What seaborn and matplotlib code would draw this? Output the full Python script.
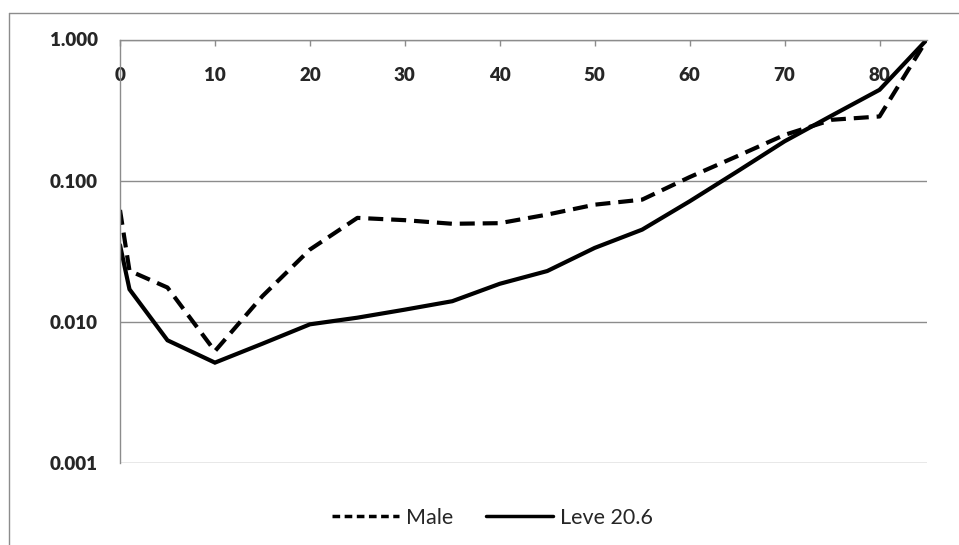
import numpy as np
import pandas as pd
import matplotlib
matplotlib.use("Agg")
import matplotlib.pyplot as plt
from matplotlib.lines import Line2D
from matplotlib.ticker import FixedLocator, FixedFormatter, NullLocator
import seaborn as sns

# Mortality rates by age (log scale)
ages = [0, 1, 5, 10, 15, 20, 25, 30, 35, 40, 45, 50, 55, 60, 65, 70, 75, 80, 85]
male = [0.062, 0.023, 0.0175, 0.0062, 0.0152, 0.0325, 0.0545, 0.0525, 0.0495,
        0.050, 0.0575, 0.0676, 0.0734, 0.106, 0.149, 0.211, 0.27, 0.285, 1.0]
leve = [0.035, 0.017, 0.0074, 0.00514, 0.0070, 0.0096, 0.0107, 0.0122, 0.014,
        0.0186, 0.0229, 0.0334, 0.045, 0.0714, 0.116, 0.19, 0.29, 0.44, 1.0]
series_names = ["Male", "Leve 20.6"]

y_ticks = [0.001, 0.01, 0.1, 1.0]
y_tick_labels = ["0.001", "0.010", "0.100", "1.000"]
x_ticks = [0, 10, 20, 30, 40, 50, 60, 70, 80]

df = pd.concat([
    pd.DataFrame({"age": ages, "rate": male, "series": series_names[0]}),
    pd.DataFrame({"age": ages, "rate": leve, "series": series_names[1]}),
], ignore_index=True)

sns.set_style("white")
plt.rcParams["font.family"] = ["Lato", "DejaVu Sans"]

GRAY = "#8c8c8c"
W, H = 959, 545
fig = plt.figure(figsize=(W / 100, H / 100), dpi=100)
ax = fig.add_axes([120 / W, 1 - 463 / H, 807 / W, (463 - 39.5) / H])

dash_style = {series_names[0]: (3.6, 1.9), series_names[1]: ""}
sns.lineplot(data=df, x="age", y="rate", style="series", style_order=series_names,
             dashes=dash_style, color="black", linewidth=3, sort=False,
             estimator=None, legend=False, ax=ax)
for ln in ax.lines:
    ln.set_dash_capstyle("butt")
    ln.set_solid_joinstyle("miter")

ax.set_yscale("log")
ax.set_ylim(0.001, 1.0)
ax.set_xlim(0, 85)
ax.yaxis.set_major_locator(FixedLocator(y_ticks))
ax.yaxis.set_major_formatter(FixedFormatter(y_tick_labels))
ax.yaxis.set_minor_locator(NullLocator())
ax.set_xticks(x_ticks)
ax.set_xticklabels([str(v) for v in x_ticks])
ax.set_xlabel("")
ax.set_ylabel("")

ax.grid(axis="y", color=GRAY, linewidth=1)
ax.grid(axis="x", visible=False)
for side in ("bottom", "right"):
    ax.spines[side].set_visible(False)
for side in ("left", "top"):
    ax.spines[side].set_color(GRAY)
    ax.spines[side].set_linewidth(1)

ax.xaxis.set_ticks_position("top")
ax.tick_params(axis="x", which="major", direction="in", length=4, width=1,
               color=GRAY, pad=-32, labeltop=True, labelbottom=False,
               labelsize=13.5)
ax.tick_params(axis="y", which="major", direction="out", length=5, width=1,
               color=GRAY, pad=11, labelsize=13.5)
for lbl in ax.get_xticklabels() + ax.get_yticklabels():
    lbl.set_fontweight("heavy")

# outer chart frame
fig.add_artist(Line2D([9 / W, 9 / W], [0, 1 - 12.7 / H], color=GRAY, lw=1))
fig.add_artist(Line2D([9 / W, 1], [1 - 12.7 / H, 1 - 12.7 / H], color=GRAY, lw=1))

handles = [
    Line2D([], [], color="black", lw=2.5, dashes=(2.2, 1.3), dash_capstyle="butt"),
    Line2D([], [], color="black", lw=2.5),
]
fig.legend(handles, series_names, loc="center", bbox_to_anchor=(492.5 / W, 1 - 518 / H),
           ncol=2, frameon=False, fontsize=15.5, handlelength=3.1,
           handletextpad=0.35, columnspacing=1.5)

fig.savefig("out.png", dpi=100)
